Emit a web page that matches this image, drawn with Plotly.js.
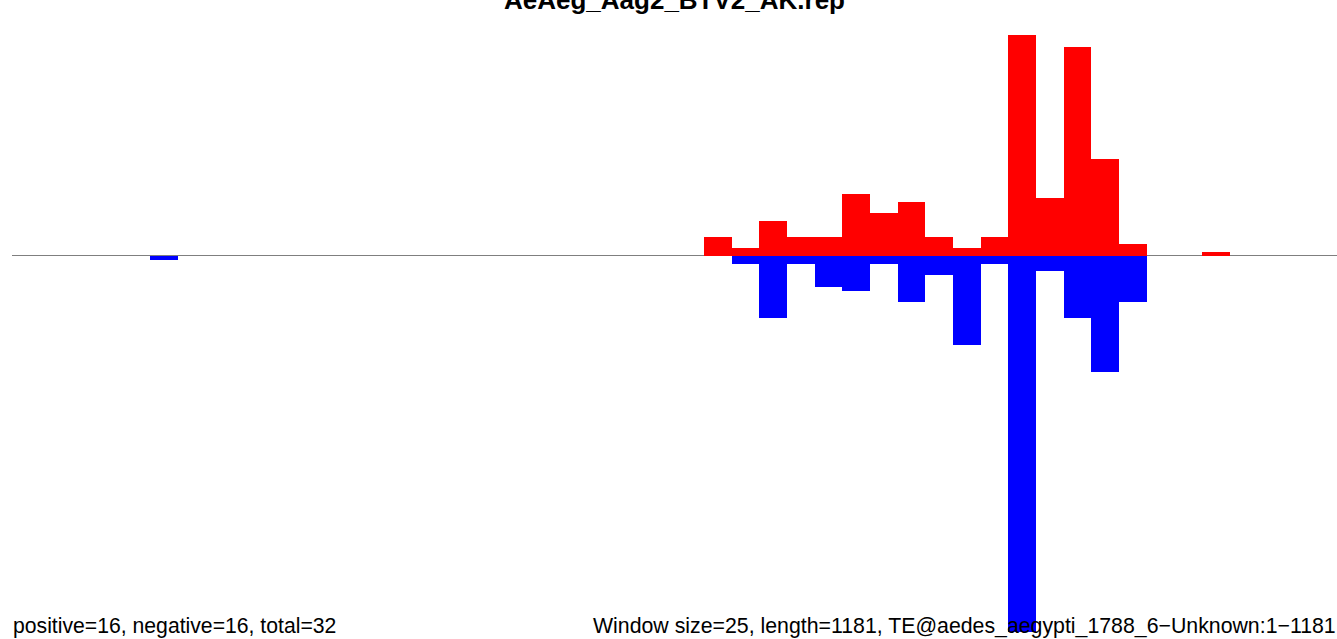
<!DOCTYPE html>
<html>
<head>
<meta charset="utf-8">
<script src="https://cdn.plot.ly/plotly-3.0.1.min.js"></script>
<style>html,body{margin:0;padding:0;background:#fff;}#chart{width:1337px;height:639px;}</style>
</head>
<body>
<div id="chart"></div>
<script>
// Data (window index, count)
const windowSize = 25;
const seqLength = 1181;
const posWindows = [25,26,27,28,29,30,31,32,33,34,35,36,37,38,39,40,43];
const posCounts  = [5, 2, 9, 5, 5, 16,11,14,5, 2, 5, 57,15,54,25,3, 1];
const negWindows = [5, 26,27,28,29,30,31,32,33,34,35,36,37,38,39,40];
const negCounts  = [1, 2, 16,2, 8, 9, 2, 12,5, 23,2, 97,4, 16,30,12];
const titleText = "AeAeg_Aag2_BTV2_AK.rep";
const leftNote = "positive=16, negative=16, total=32";
const rightNote = "Window size=25, length=1181, TE@aedes_aegypti_1788_6\u2212Unknown:1\u22121181";

const center = w => (w + 0.5) * windowSize;

const traces = [
  {type:'bar', x: posWindows.map(center), y: posCounts, width: windowSize,
   marker:{color:'#FF0000', line:{width:0}}, hoverinfo:'skip', showlegend:false},
  {type:'bar', x: negWindows.map(center), y: negCounts.map(v => -v), width: windowSize,
   marker:{color:'#0000FF', line:{width:0}}, hoverinfo:'skip', showlegend:false}
];

const layout = {
  width:1337, height:639,
  margin:{l:12, r:0, t:35, b:7, pad:0},
  paper_bgcolor:'#ffffff', plot_bgcolor:'#ffffff',
  barmode:'relative', bargap:0,
  showlegend:false,
  font:{family:'"Liberation Sans", Arial, sans-serif', color:'#000'},
  title:{text:'<b>'+titleText+'</b>', font:{size:26, color:'#000', family:'"Liberation Sans", Arial, sans-serif'},
         x:0.5, xref:'paper', xanchor:'center', y:1, yref:'container', yanchor:'middle'},
  xaxis:{range:[0, 1197], visible:false, fixedrange:true},
  yaxis:{range:[-97, 57], showgrid:false, showticklabels:false, ticks:'', showline:false,
         zeroline:true, zerolinecolor:'#7f7f7f', zerolinewidth:1, fixedrange:true},
  annotations:[
    {text:leftNote, xref:'paper', yref:'paper', x:0, y:0, xanchor:'left', yanchor:'middle',
     borderpad:0, yshift:6, showarrow:false, font:{size:21.2, color:'#000'}},
    {text:rightNote, xref:'paper', yref:'paper', x:1, y:0, xanchor:'right', yanchor:'middle',
     borderpad:0, yshift:6, showarrow:false, font:{size:21.3, color:'#000'}}
  ]
};

Plotly.newPlot('chart', traces, layout, {displayModeBar:false, staticPlot:true});
</script>
</body>
</html>
